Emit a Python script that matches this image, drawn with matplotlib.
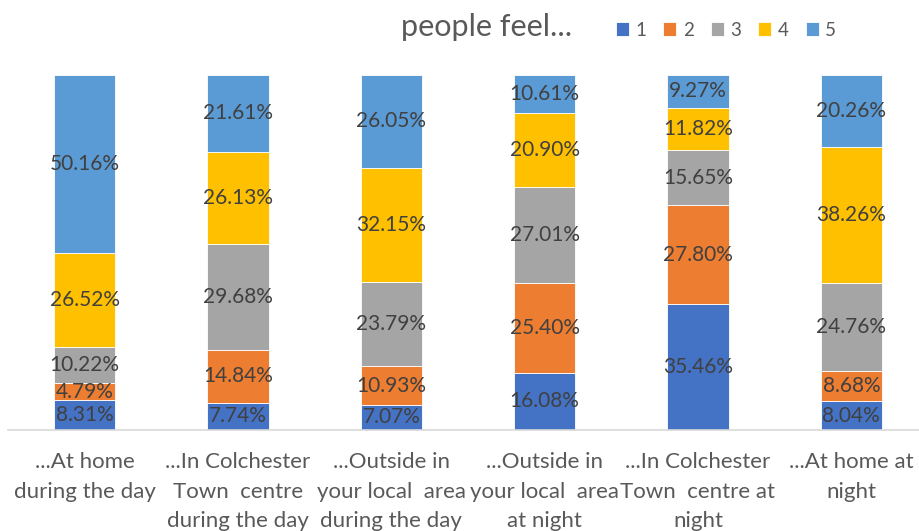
import matplotlib
matplotlib.use("Agg")
import matplotlib.pyplot as plt
import numpy as np

categories = [
    "...At home\nduring the day",
    "...In Colchester\nTown  centre\nduring the day",
    "...Outside in\nyour local  area\nduring the day",
    "...Outside in\nyour local  area\nat night",
    "...In Colchester\nTown  centre at\nnight",
    "...At home at\nnight",
]
series_names = ["1", "2", "3", "4", "5"]
s1 = [8.31, 7.74, 7.07, 16.08, 35.46, 8.04]
s2 = [4.79, 14.84, 10.93, 25.40, 27.80, 8.68]
s3 = [10.22, 29.68, 23.79, 27.01, 15.65, 24.76]
s4 = [26.52, 26.13, 32.15, 20.90, 11.82, 38.26]
s5 = [50.16, 21.61, 26.05, 10.61, 9.27, 20.26]
series = [s1, s2, s3, s4, s5]
colors = ["#4472C4", "#ED7D31", "#A5A5A5", "#FFC000", "#5B9BD5"]

plt.rcParams['font.family'] = ['Lato', 'DejaVu Sans']

fig = plt.figure(figsize=(9.19, 5.31), dpi=100)
ax = fig.add_axes([8/919, 101/531, 920/919, 355/531])

x = np.arange(len(categories))
bottom = np.zeros(len(categories))
handles = []
for name, vals, c in zip(series_names, series, colors):
    vals = np.array(vals)
    b = ax.bar(x, vals, bottom=bottom, width=0.4, color=c, edgecolor="white", linewidth=0.6, label=name)
    handles.append(b)
    for xi, bi, v in zip(x, bottom, vals):
        ax.text(xi, bi + v / 2, f"{v:.2f}%", ha="center", va="center", fontsize=15, color="#404040")
    bottom += vals

ax.set_xlim(-0.5, len(categories) - 0.5)
ax.set_ylim(0, 100)
ax.set_xticks(x)
ax.set_xticklabels(categories, fontsize=16, color="#595959", linespacing=1.58)
ax.tick_params(axis="x", length=0, pad=16)
ax.set_yticks([])
for sp in ["left", "right", "top"]:
    ax.spines[sp].set_visible(False)
ax.spines["bottom"].set_color("#D9D9D9")
ax.spines["bottom"].set_linewidth(1.2)

fig.text(487/919, 1 - 27/531, "people feel...", ha="center", va="center", fontsize=22, color="#595959")
fig.legend(handles=handles, labels=series_names, loc="center", bbox_to_anchor=(726/919, 1 - 30/531),
           ncol=5, frameon=False, fontsize=13.5, handlelength=0.7, handleheight=0.7,
           handletextpad=0.35, columnspacing=0.9, labelcolor="#595959")

fig.savefig("out.png", dpi=100)
